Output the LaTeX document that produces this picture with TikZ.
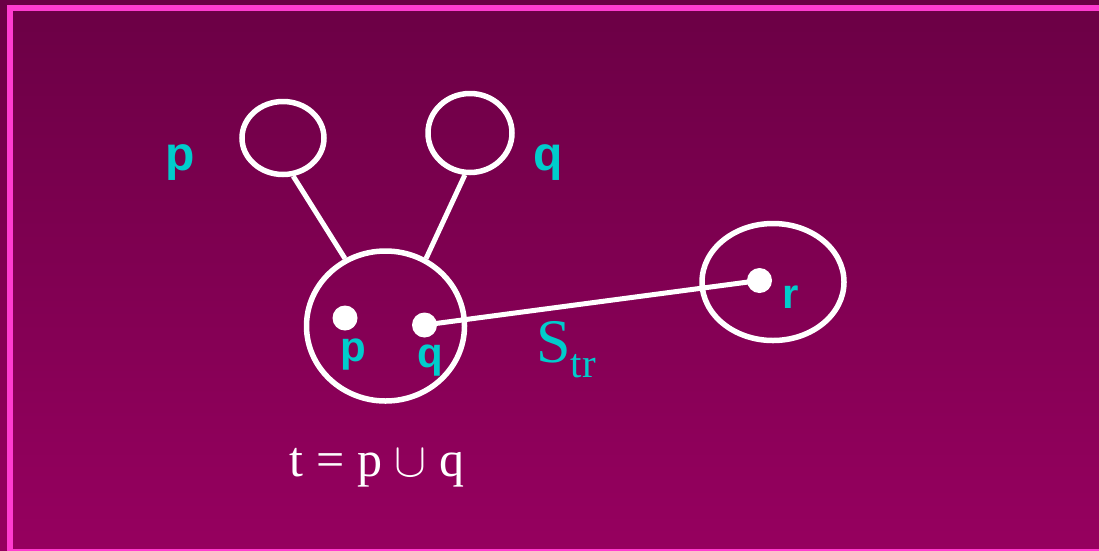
\documentclass[tikz,border=0pt]{standalone}
\usepackage{fontspec}
\setmainfont{Liberation Serif}
\setsansfont{Liberation Sans}
\usetikzlibrary{shapes.geometric,positioning}
\definecolor{bgtop}{HTML}{6B0045}
\definecolor{bgbottom}{HTML}{96005F}
\definecolor{framepink}{HTML}{FF3CD0}
\definecolor{labelcyan}{HTML}{00CCCC}

\begin{document}
\begin{tikzpicture}[
 x=1pt,y=-1pt,
 set/.style={draw=white,line width=5.5pt,ellipse,inner sep=0pt},
 elem/.style={circle,fill=white,minimum size=25pt,inner sep=0pt},
 conn/.style={draw=white,line width=5pt},
 lbl/.style={text=labelcyan,font=\sffamily\bfseries\fontsize{42}{42}\selectfont,
   anchor=base,inner sep=0pt},
 biglbl/.style={lbl,font=\sffamily\bfseries\fontsize{48}{48}\selectfont}
]
\useasboundingbox (0,0) rectangle (1099,550);
\clip (0,0) rectangle (1099,550);
\fill[top color=bgtop,bottom color=bgbottom] (0,0) rectangle (1099,550);
\draw[framepink,line width=6pt] (10,8) rectangle (1115,552);
% sets
\node[set,minimum width=82pt,minimum height=73pt] (pset) at (283,138) {};
\node[set,minimum width=84pt,minimum height=79pt] (qset) at (470,133) {};
\node[set,minimum width=158pt,minimum height=150pt] (tset) at (385.5,326) {};
\node[set,minimum width=142pt,minimum height=117pt] (rset) at (773,282) {};
% elements
\node[elem] (pdot) at (345,318) {};
\node[elem] (qdot) at (424.5,325) {};
\node[elem] (rdot) at (759.5,280.5) {};
\draw[conn] (pset.-75) -- (tset.121.5);
\draw[conn] (qset.-97) -- (tset.59.6);
\draw[conn] (qdot.center) -- (rdot.center);
% labels
\node[biglbl] (plbl) at (180,170) {p};
\node[biglbl] (qlbl) at (548,170) {q};
\node[lbl] (pin) at (353,361) {p};
\node[lbl] (qin) at (430,367) {q};
\node[lbl] (rin) at (790.5,308) {r};
\node[text=labelcyan,anchor=base west,inner sep=0pt] (strlbl) at (536,362)
 {\fontsize{62}{62}\selectfont S\raisebox{-15pt}{\fontsize{41}{41}\selectfont tr}};
\node[text=white,anchor=base,inner sep=0pt] (tdef) at (377,476)
 {\fontsize{50}{50}\selectfont t = p \resizebox{32pt}{!}{$\cup$} q};
\end{tikzpicture}
\end{document}
